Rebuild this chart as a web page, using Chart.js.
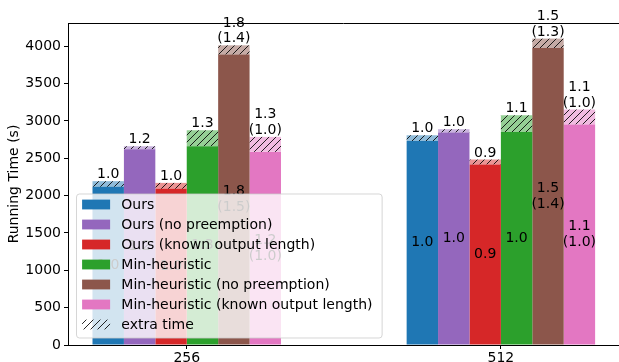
<!DOCTYPE html>
<html>
<head>
<meta charset="utf-8">
<script src="https://cdn.jsdelivr.net/npm/chart.js@4.4.1/dist/chart.umd.min.js"></script>
<style>
  html, body { margin: 0; padding: 0; background: #fff; }
  #wrap { width: 619px; height: 362px; }
</style>
</head>
<body>
<div id="wrap"><canvas id="runtimeChart" width="619" height="362"></canvas></div>
<script>
// Running time per scheduling method, 256 vs 512 requests
// solid part = base time, hatched part = extra time on top

const sizes = ['256', '512'];
const methods = [
  'Ours',
  'Ours (no preemption)',
  'Ours (known output length)',
  'Min-heuristic',
  'Min-heuristic (no preemption)',
  'Min-heuristic (known output length)'
];
const colors = ['#1f77b4', '#9467bd', '#d62728', '#2ca02c', '#8c564b', '#e377c2'];

// one row per method: [256, 512]
const baseTimes = [
  [2118, 2733],
  [2622, 2845],
  [2091, 2417],
  [2662, 2853],
  [3889, 3977],
  [2586, 2952]
];
const extraTimes = [
  [76, 76],
  [40, 45],
  [80, 67],
  [214, 224],
  [124, 126],
  [201, 201]
];
const topLabels = [
  ['1.0', '1.0'],
  ['1.2', '1.0'],
  ['1.0', '0.9'],
  ['1.3', '1.1'],
  ['1.8\n(1.4)', '1.5\n(1.3)'],
  ['1.3\n(1.0)', '1.1\n(1.0)']
];
const innerLabels = [
  ['1.0', '1.0'],
  ['1.2', '1.0'],
  ['1.0', '0.9'],
  ['1.3', '1.0'],
  ['1.8\n(1.5)', '1.5\n(1.4)'],
  ['1.2\n(1.0)', '1.1\n(1.0)']
];
const extraLabel = 'extra time';
const yTicks = [0, 500, 1000, 1500, 2000, 2500, 3000, 3500, 4000];

const FONT = '"DejaVu Sans", sans-serif';
Chart.defaults.font.family = FONT;
Chart.defaults.color = '#000';

const canvas = document.getElementById('runtimeChart');
const ctx = canvas.getContext('2d');

function hexToRgba(hex, alpha) {
  var r = parseInt(hex.slice(1, 3), 16);
  var g = parseInt(hex.slice(3, 5), 16);
  var b = parseInt(hex.slice(5, 7), 16);
  return 'rgba(' + r + ', ' + g + ', ' + b + ', ' + alpha + ')';
}

// "///" hatch, optionally on a tinted background
function hatchPattern(bg) {
  var n = 7;
  var tile = document.createElement('canvas');
  tile.width = n;
  tile.height = n;
  var c = tile.getContext('2d');
  if (bg) {
    c.fillStyle = bg;
    c.fillRect(0, 0, n, n);
  }
  c.strokeStyle = 'rgba(0, 0, 0, 0.85)';
  c.lineWidth = 1;
  c.beginPath();
  c.moveTo(-1, n + 1); c.lineTo(n + 1, -1);
  c.moveTo(-1, 1); c.lineTo(1, -1);
  c.moveTo(n - 1, n + 1); c.lineTo(n + 1, n - 1);
  c.stroke();
  return ctx.createPattern(tile, 'repeat');
}

const datasets = [];
methods.forEach(function (name, i) {
  datasets.push({
    label: name,
    data: baseTimes[i].map(function (v, j) { return { x: j, y: v }; }),
    backgroundColor: colors[i],
    stack: 'm' + i,
    part: 'base',
    method: i
  });
  datasets.push({
    label: name + ' (extra)',
    data: extraTimes[i].map(function (v, j) { return { x: j, y: v }; }),
    backgroundColor: hatchPattern(hexToRgba(colors[i], 0.5)),
    stack: 'm' + i,
    part: 'extra',
    method: i
  });
});

function drawLines(c, text, x, y, mode) {
  var lines = text.split('\n');
  var lh = 15.5;
  if (mode === 'above') {
    c.textBaseline = 'alphabetic';
    for (var k = lines.length - 1, yy = y; k >= 0; k--, yy -= lh) {
      c.fillText(lines[k], x, yy);
    }
  } else {
    c.textBaseline = 'middle';
    var top = y - (lines.length - 1) * lh / 2;
    lines.forEach(function (l, k) { c.fillText(l, x, top + k * lh); });
  }
}

const overlay = {
  id: 'overlay',
  afterDatasetsDraw: function (chart) {
    var c = chart.ctx;
    var area = chart.chartArea;

    // top spine
    c.save();
    c.strokeStyle = '#000';
    c.lineWidth = 1;
    c.beginPath();
    c.moveTo(area.left, Math.round(area.top) + 0.5);
    c.lineTo(area.right, Math.round(area.top) + 0.5);
    c.stroke();

    // bar value labels
    c.font = '14px ' + FONT;
    c.fillStyle = '#000';
    c.textAlign = 'center';
    chart.data.datasets.forEach(function (ds, di) {
      var meta = chart.getDatasetMeta(di);
      meta.data.forEach(function (bar, j) {
        if (ds.part === 'base') {
          drawLines(c, innerLabels[ds.method][j], bar.x, (bar.y + bar.base) / 2, 'middle');
        } else {
          drawLines(c, topLabels[ds.method][j], bar.x, bar.y - 3, 'above');
        }
      });
    });

    // legend (lower left, drawn over the bars)
    var pad = 5.6, handle = 28, gap = 11.2, pitch = 20;
    var entries = methods.concat([extraLabel]);
    var textW = 0;
    entries.forEach(function (t) { textW = Math.max(textW, c.measureText(t).width); });
    var w = pad + handle + gap + textW + pad + 4;
    var h = 144;
    var x0 = area.left + 8.5;
    var y0 = area.bottom - 7 - h;

    c.beginPath();
    c.roundRect(x0, y0, w, h, 3);
    c.fillStyle = 'rgba(255, 255, 255, 0.8)';
    c.fill();
    c.strokeStyle = 'rgba(204, 204, 204, 0.8)';
    c.lineWidth = 1;
    c.stroke();

    var extraFill = hatchPattern(null);
    c.textAlign = 'left';
    c.textBaseline = 'middle';
    entries.forEach(function (t, k) {
      var cy = y0 + 10.5 + k * pitch;
      c.fillStyle = k < methods.length ? colors[k] : extraFill;
      c.fillRect(x0 + pad, cy - 4.9, handle, 9.8);
      c.fillStyle = '#000';
      c.fillText(t, x0 + pad + handle + gap, cy + 1);
    });
    c.restore();
  }
};

new Chart(ctx, {
  type: 'bar',
  data: { datasets: datasets },
  options: {
    responsive: false,
    animation: false,
    layout: { padding: { top: 23, right: 0, bottom: 0, left: 0 } },
    datasets: {
      bar: { categoryPercentage: 0.6, barPercentage: 1.0, borderWidth: 0 }
    },
    plugins: {
      legend: { display: false },
      tooltip: { enabled: false }
    },
    scales: {
      x: {
        type: 'linear',
        offset: false,
        min: -0.378,
        max: 1.376,
        afterBuildTicks: function (scale) {
          scale.ticks = sizes.map(function (s, j) { return { value: j }; });
        },
        afterFit: function (scale) { scale.height = 17; },
        ticks: {
          color: '#000',
          font: { size: 14 },
          padding: 1,
          maxRotation: 0,
          autoSkip: false,
          callback: function (value) { return sizes[value]; }
        },
        grid: { offset: false, drawOnChartArea: false, tickLength: 4, color: '#000' },
        border: { color: '#000', width: 1 }
      },
      y: {
        stacked: true,
        min: 0,
        max: 4312,
        afterBuildTicks: function (scale) {
          scale.ticks = yTicks.map(function (v) { return { value: v }; });
        },
        afterFit: function (scale) { scale.width = 68; },
        ticks: {
          color: '#000',
          font: { size: 14 },
          padding: 3,
          autoSkip: false,
          callback: function (value) { return String(value); }
        },
        grid: { drawOnChartArea: false, tickLength: 4, color: '#000' },
        border: { color: '#000', width: 1 },
        title: {
          display: true,
          text: 'Running Time (s)',
          color: '#000',
          font: { size: 14 },
          padding: { top: 6, bottom: 0 }
        }
      }
    }
  },
  plugins: [overlay]
});
</script>
</body>
</html>
